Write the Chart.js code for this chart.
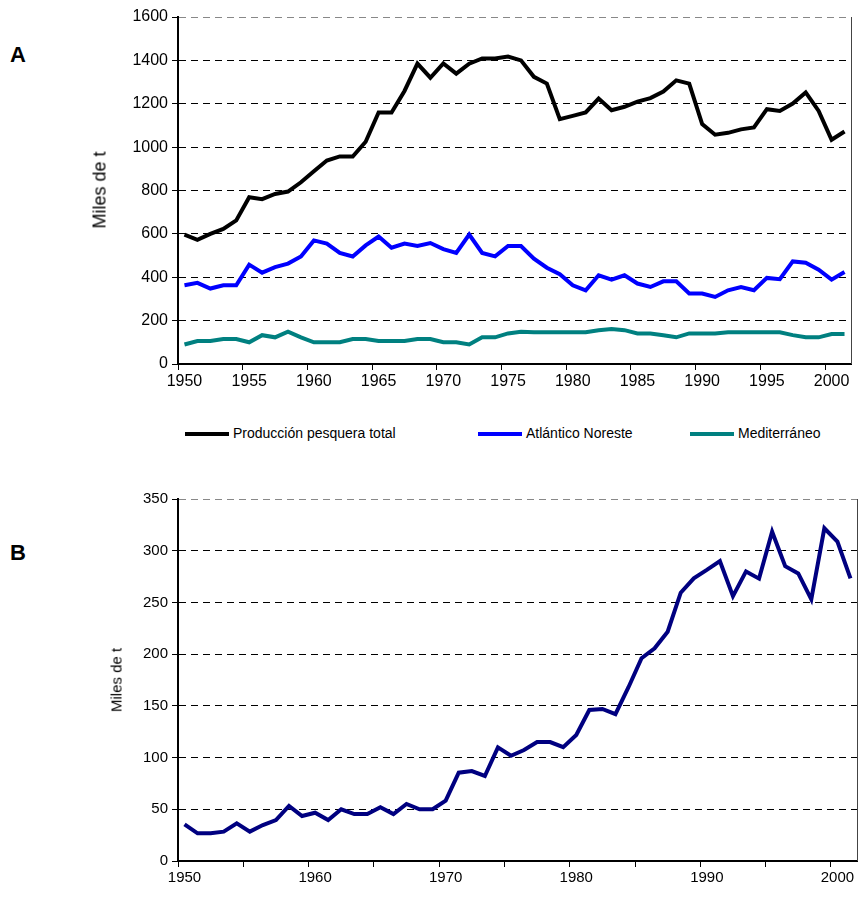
<!DOCTYPE html>
<html><head><meta charset="utf-8">
<script src="https://cdn.jsdelivr.net/npm/chart.js@4"></script>
<style>
body{margin:0;background:#fff;font-family:"Liberation Sans",Arial,sans-serif;}
#wrap{position:relative;width:858px;height:897px;}
canvas{position:absolute;left:0;}
.lab{position:absolute;font-weight:bold;font-size:22px;}
.leg{position:absolute;top:424px;font-size:14px;height:18px;line-height:18px;}
.leg span{display:inline-block;vertical-align:middle;width:44px;height:4px;margin-right:4px;}
.yt{position:absolute;transform:translate(-50%,-50%) rotate(-90deg);white-space:nowrap;}
</style></head><body>
<div id="wrap">
<div class="lab" style="left:10px;top:42px">A</div>
<div class="lab" style="left:10px;top:540px">B</div>
<canvas id="ca" style="top:0"></canvas>
<canvas id="cb" style="top:480px"></canvas>
<div class="yt" style="left:100px;top:190px;font-size:18px">Miles de t</div>
<div class="yt" style="left:116px;top:680px;font-size:15px">Miles de t</div>
<div class="leg" style="left:185px"><span style="background:#000"></span>Producción pesquera total</div>
<div class="leg" style="left:478px"><span style="background:#0000ff"></span>Atlántico Noreste</div>
<div class="leg" style="left:690px"><span style="background:#008080"></span>Mediterráneo</div>
</div>
<script>
const years=[];for(let y=1950;y<=2001;y++)years.push(String(y));
const total=[597,573,600,623,662,769,760,784,795,838,889,938,957,957,1025,1160,1160,1259,1385,1320,1386,1339,1385,1409,1409,1418,1400,1324,1293,1129,1144,1160,1224,1170,1186,1210,1226,1256,1308,1293,1106,1057,1066,1082,1091,1175,1167,1201,1252,1167,1034,1072];
const atlantico=[363,374,348,363,363,458,421,447,463,496,570,555,512,496,547,588,536,555,544,558,530,512,597,512,496,544,544,486,444,414,363,340,409,389,409,371,355,381,381,325,325,309,340,355,340,397,391,473,467,435,389,424];
const mediterraneo=[90,106,106,115,115,100,133,123,149,123,100,100,100,115,115,106,106,106,115,115,100,100,90,123,123,141,149,146,146,146,146,146,156,161,156,141,141,133,123,141,141,141,146,146,146,146,146,133,123,123,138,138];
const serieB=[35.5,26.8,26.8,28.4,36.4,28.4,34.8,39.6,53.2,43.5,46.7,39.6,50,45.4,45.4,51.9,45.4,55.1,50,50,58.3,85.4,87,82.2,109.9,101.8,107.3,115,115,110,121.8,146,147,142,168,196,205.6,221.7,259.4,273.3,281.4,290,256,280,273,318.4,285,278,253,321.7,308.8,273.3];
const ticksA=[0,200,400,600,800,1000,1200,1400,1600];
const ticksB=[0,50,100,150,200,250,300,350];

const border={id:'border',afterDraw(c){const a=c.chartArea,x=c.ctx;x.save();x.strokeStyle='#444';x.lineWidth=1;x.beginPath();x.moveTo(a.right+0.5,a.top);x.lineTo(a.right+0.5,a.bottom);x.stroke();x.restore();}};

function make(id,h,padTop,padRight,xH,yW,datasets,yTicks,every,fs){
  const cv=document.getElementById(id);cv.width=858;cv.height=h;cv.style.width='858px';cv.style.height=h+'px';
  const ymax=yTicks[yTicks.length-1];
  return new Chart(cv,{type:'line',data:{labels:years,datasets:datasets.map(d=>({data:d[0],borderColor:d[1],borderWidth:4,pointRadius:0,tension:0,fill:false}))},
  plugins:[border],
  options:{responsive:false,animation:false,devicePixelRatio:1,layout:{padding:{top:padTop,right:padRight,left:0,bottom:0}},
  plugins:{legend:{display:false},tooltip:{enabled:false}},
  scales:{
    x:{type:'category',offset:true,afterFit(s){s.height=xH;},
      grid:{offset:true,drawOnChartArea:false,drawTicks:true,tickLength:6,color:c=>c.index%5===0?'#000':'rgba(0,0,0,0)'},
      border:{color:'#000',width:2},
      ticks:{autoSkip:false,maxRotation:0,color:'#000',font:{family:'Liberation Sans',size:fs},padding:2,callback:(v,i)=>(Number(years[i])%every===0?years[i]:'')}},
    y:{min:0,max:ymax,afterFit(s){s.width=yW;},
      afterBuildTicks(s){s.ticks=yTicks.map(v=>({value:v}));},
      grid:{color:c=>c.tick&&c.tick.value===ymax?'#888':'#000',lineWidth:1,tickLength:6,drawTicks:true,tickColor:'#000'},
      border:{color:'#000',width:2,dash:[7,5]},
      ticks:{color:'#000',font:{family:'Liberation Sans',size:fs},padding:4,callback:v=>String(v)}}
  }}});
}
make('ca',400,17,7,36,178,[[total,'#000'],[atlantico,'#0000ff'],[mediterraneo,'#008080']],ticksA,5,16);
make('cb',417,19,1,36,178,[[serieB,'#000080']],ticksB,10,15);
</script>
</body></html>
